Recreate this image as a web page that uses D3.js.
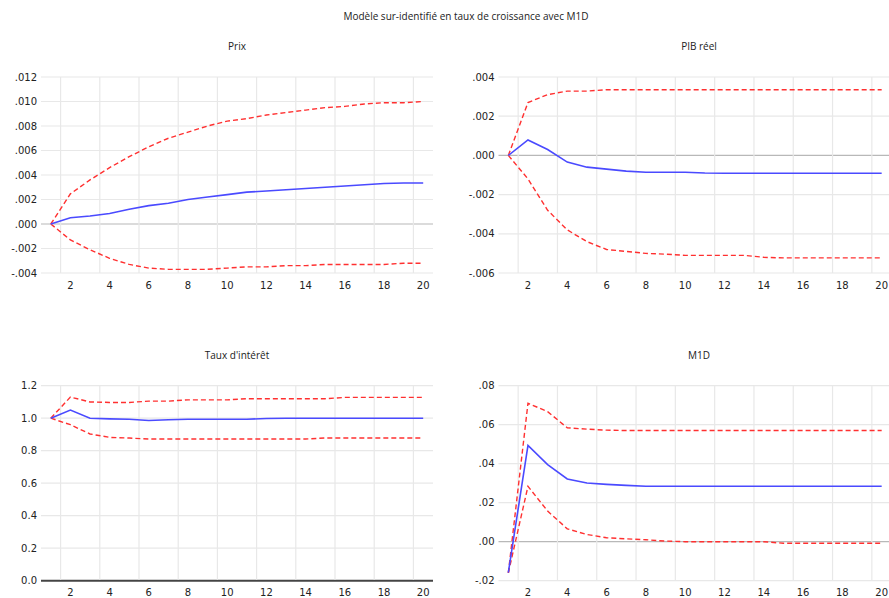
<!DOCTYPE html>
<html>
<head>
<meta charset="utf-8">
<script src="https://cdn.jsdelivr.net/npm/d3@7"></script>
<style>
  body { margin: 0; background: #fff; }
  svg { display: block; }
  .tick-label { font-family: "DejaVu Sans", sans-serif; font-size: 10px; fill: #222; }
  .title { font-family: "Open Sans", sans-serif; font-size: 10px; fill: #222; }
</style>
</head>
<body>
<div id="chart"></div>
<script>
// periods of the impulse responses
const periods = [1, 2, 3, 4, 5, 6, 7, 8, 9, 10, 11, 12, 13, 14, 15, 16, 17, 18, 19, 20];
const xTickLabels = [2, 4, 6, 8, 10, 12, 14, 16, 18, 20];

// Prix
const prixResp  = [0, .00051, .00065, .00086, .0012, .0015, .0017, .0020, .0022, .0024, .0026, .0027, .0028, .0029, .0030, .0031, .0032, .0033, .00335, .00335];
const prixUpper = [0, .00246, .0036, .0046, .0055, .0063, .0070, .0075, .0080, .0084, .0086, .0089, .0091, .0093, .0095, .0096, .0098, .0099, .0099, .0100];
const prixLower = [0, -.0013, -.0021, -.0028, -.0033, -.0036, -.0037, -.0037, -.0037, -.0036, -.0035, -.0035, -.0034, -.0034, -.0033, -.0033, -.0033, -.0033, -.0032, -.0032];
const prixTicks = [-.004, -.002, .000, .002, .004, .006, .008, .010, .012];

// PIB réel
const pibResp  = [0, .00079, .0003, -.00034, -.0006, -.0007, -.0008, -.00086, -.00086, -.00086, -.0009, -.00091, -.00091, -.00091, -.00091, -.00091, -.00091, -.00091, -.00091, -.00091];
const pibUpper = [0, .0027, .0031, .00328, .00328, .00335, .00335, .00335, .00335, .00335, .00335, .00335, .00335, .00335, .00335, .00335, .00335, .00335, .00335, .00335];
const pibLower = [0, -.0012, -.0028, -.0038, -.0044, -.0048, -.0049, -.0050, -.00504, -.0051, -.0051, -.0051, -.0051, -.0052, -.00523, -.00523, -.00523, -.00523, -.00523, -.00523];
const pibTicks = [-.006, -.004, -.002, .000, .002, .004];

// Taux d'intérêt
const tauxResp  = [1.0, 1.05, 1.0, .996, .994, .986, .99, .994, .994, .994, .994, .998, 1.0, 1.0, 1.0, 1.0, 1.0, 1.0, 1.0, 1.0];
const tauxUpper = [1.0, 1.13, 1.10, 1.097, 1.097, 1.105, 1.105, 1.113, 1.113, 1.113, 1.12, 1.12, 1.12, 1.12, 1.12, 1.128, 1.128, 1.128, 1.128, 1.128];
const tauxLower = [1.0, .96, .903, .882, .878, .872, .872, .872, .872, .872, .872, .872, .872, .872, .878, .878, .878, .878, .878, .878];
const tauxTicks = [0.0, 0.2, 0.4, 0.6, 0.8, 1.0, 1.2];

// M1D
const m1dResp  = [-.0158, .0494, .0395, .0322, .0301, .0294, .0289, .0284, .0284, .0284, .0284, .0284, .0284, .0284, .0284, .0284, .0284, .0284, .0284, .0284];
const m1dUpper = [-.016, .071, .0667, .0584, .0577, .0572, .057, .057, .057, .057, .057, .057, .057, .057, .057, .057, .057, .057, .057, .057];
const m1dLower = [-.016, .0284, .0157, .0066, .0037, .002, .0015, .001, .0003, 0, 0, 0, 0, 0, -.0008, -.0008, -.0008, -.0008, -.0008, -.0008];
const m1dTicks = [-.02, .00, .02, .04, .06, .08];

const width = 889, height = 598;

const svg = d3.select("#chart").append("svg")
    .attr("width", width)
    .attr("height", height);

svg.append("text")
    .attr("class", "title")
    .attr("x", 466)
    .attr("y", 20)
    .attr("text-anchor", "middle")
    .text("Modèle sur-identifié en taux de croissance avec M1D");

// format like EViews: ".004", "-.002", "1.0"
const fmtNoLead = d => d3.format(".3f")(d).replace("−", "-").replace(/^(-?)0\./, "$1.");
const fmtNoLead2 = d => d3.format(".2f")(d).replace("−", "-").replace(/^(-?)0\./, "$1.");
const fmtOne = d => d3.format(".1f")(d);

const panels = [
    { title: "Prix", resp: prixResp, upper: prixUpper, lower: prixLower, ticks: prixTicks, fmt: fmtNoLead,
      left: 41, right: 433, top: 77, bottom: 273, titleX: 237, titleY: 50, zeroDark: false },
    { title: "PIB réel", resp: pibResp, upper: pibUpper, lower: pibLower, ticks: pibTicks, fmt: fmtNoLead,
      left: 498.5, right: 891.5, top: 77, bottom: 273, titleX: 699, titleY: 50, zeroDark: false },
    { title: "Taux d'intérêt", resp: tauxResp, upper: tauxUpper, lower: tauxLower, ticks: tauxTicks, fmt: fmtOne,
      left: 41, right: 433, top: 385.7, bottom: 580.7, titleX: 237, titleY: 359, zeroDark: true },
    { title: "M1D", resp: m1dResp, upper: m1dUpper, lower: m1dLower, ticks: m1dTicks, fmt: fmtNoLead2,
      left: 498.5, right: 891.5, top: 385.7, bottom: 580.7, titleX: 699, titleY: 359, zeroDark: false }
];

panels.forEach(function (p) {
    let g = svg.append("g");

    let x = d3.scaleLinear()
        .domain([0.5, 20.5])
        .range([p.left, p.right]);
    let y = d3.scaleLinear()
        .domain(d3.extent(p.ticks))
        .range([p.bottom, p.top]);

    g.append("text")
        .attr("class", "title")
        .attr("x", p.titleX)
        .attr("y", p.titleY)
        .attr("text-anchor", "middle")
        .text(p.title);

    // horizontal grid
    g.append("g")
        .selectAll("line")
        .data(p.ticks)
        .enter()
        .append("line")
        .attr("x1", p.left)
        .attr("x2", p.right)
        .attr("y1", d => y(d))
        .attr("y2", d => y(d))
        .attr("stroke", d => d === 0 ? (p.zeroDark ? "#444" : "#b8b8b8") : "#e8e8e8")
        .attr("stroke-width", d => (d === 0 && p.zeroDark) ? 2 : 1.2);

    // vertical grid, between observations
    g.append("g")
        .selectAll("line")
        .data(xTickLabels)
        .enter()
        .append("line")
        .attr("x1", d => x(d - 0.5))
        .attr("x2", d => x(d - 0.5))
        .attr("y1", p.top)
        .attr("y2", p.bottom - (p.zeroDark ? 1 : 0))
        .attr("stroke", "#e8e8e8")
        .attr("stroke-width", 1.2);

    // y labels
    g.append("g")
        .selectAll("text")
        .data(p.ticks)
        .enter()
        .append("text")
        .attr("class", "tick-label")
        .attr("x", p.left - 4)
        .attr("y", d => y(d))
        .attr("dy", "0.35em")
        .attr("text-anchor", "end")
        .text(p.fmt);

    // x labels
    g.append("g")
        .selectAll("text")
        .data(xTickLabels)
        .enter()
        .append("text")
        .attr("class", "tick-label")
        .attr("x", d => x(d))
        .attr("y", p.bottom + 12)
        .attr("dy", "0.35em")
        .attr("text-anchor", "middle")
        .text(d => d);

    let line = d3.line()
        .x((d, i) => x(periods[i]))
        .y(d => y(d));

    [p.upper, p.lower].forEach(function (band) {
        g.append("path")
            .datum(band)
            .attr("fill", "none")
            .attr("stroke", "#ff3030")
            .attr("stroke-width", 1.4)
            .attr("stroke-dasharray", "5,3")
            .attr("d", line);
    });

    g.append("path")
        .datum(p.resp)
        .attr("fill", "none")
        .attr("stroke", "#4a4aff")
        .attr("stroke-width", 1.6)
        .attr("d", line);
});
</script>
</body>
</html>
